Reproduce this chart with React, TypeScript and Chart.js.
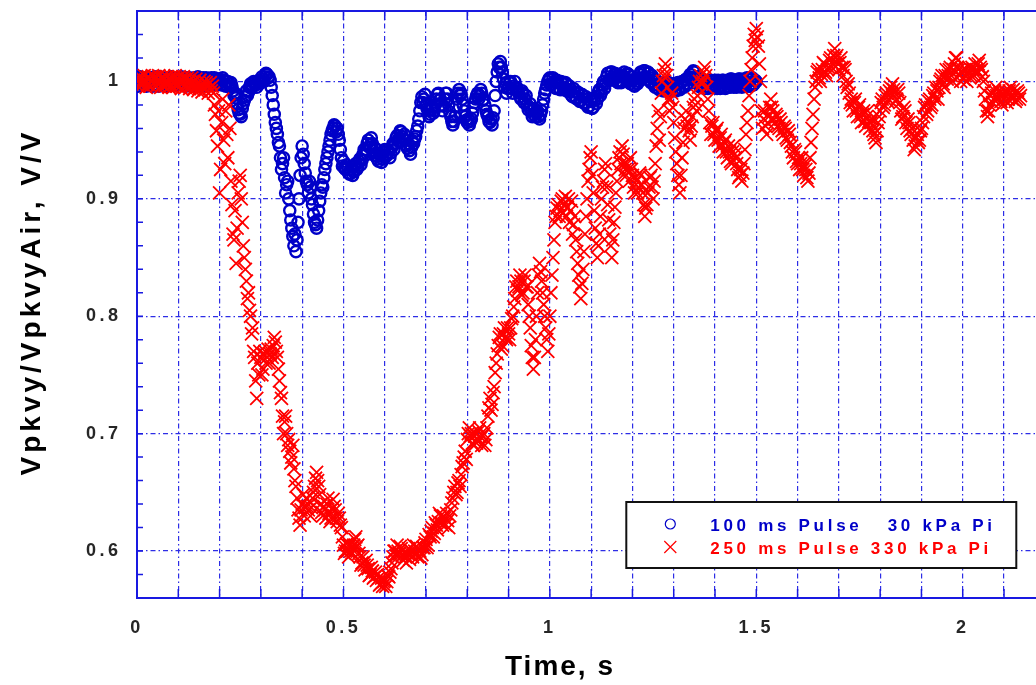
import React, { useEffect, useRef } from 'react';
import { Chart, registerables } from 'chart.js';

Chart.register(...registerables);

// ---------------- data ----------------
// Both records are sampled every 2.5 ms; each series is stored as two interleaved
// arrays: samples on the 5 ms grid (t = i*5 ms) and the in-between samples (t = 2.5 ms + i*5 ms).
const SAMPLE_STEP_S = 0.005;

const SERIES_LABELS = ['100 ms Pulse   30 kPa Pi', '250 ms Pulse 330 kPa Pi'];

// 100 ms pulse, 30 kPa — one row per 0.1 s
const PULSE_100MS = [
  /* 0.0 */ 1.003, 0.998, 1.002, 0.997, 1.003, 0.999, 0.997, 1.003, 1.000, 0.997, 1.002, 1.004, 0.998, 0.997, 1.002, 1.003, 0.999, 1.002, 0.997, 1.001,
  /* 0.1 */ 1.003, 0.998, 0.997, 1.002, 1.003, 0.998, 0.997, 1.001, 1.003, 0.999, 0.997, 1.002, 1.003, 0.998, 0.997, 1.002, 1.003, 0.999, 0.997, 1.002,
  /* 0.2 */ 1.002, 0.997, 1.001, 0.996, 1.000, 0.995, 0.996, 0.988, 0.986, 0.976, 0.972, 0.977, 0.984, 0.992, 0.991, 0.998, 0.996, 0.999, 0.995, 1.001,
  /* 0.3 */ 1.000, 1.002, 1.004, 1.006, 1.004, 0.995, 0.980, 0.965, 0.955, 0.945, 0.925, 0.935, 0.905, 0.915, 0.890, 0.875, 0.860, 0.855, 0.880, 0.920,
  /* 0.4 */ 0.945, 0.930, 0.915, 0.905, 0.910, 0.895, 0.880, 0.875, 0.890, 0.905, 0.910, 0.925, 0.935, 0.945, 0.955, 0.960, 0.962, 0.960, 0.950, 0.935,
  /* 0.5 */ 0.932, 0.925, 0.927, 0.921, 0.927, 0.923, 0.930, 0.927, 0.934, 0.933, 0.942, 0.942, 0.950, 0.946, 0.947, 0.937, 0.939, 0.932, 0.937, 0.934,
  /* 0.6 */ 0.942, 0.937, 0.940, 0.939, 0.947, 0.947, 0.954, 0.952, 0.957, 0.951, 0.950, 0.943, 0.941, 0.944, 0.947, 0.953, 0.962, 0.975, 0.987, 0.985,
  /* 0.7 */ 0.980, 0.975, 0.972, 0.978, 0.975, 0.985, 0.990, 0.985, 0.975, 0.985, 0.990, 0.980, 0.970, 0.963, 0.970, 0.985, 0.993, 0.990, 0.980, 0.970,
  /* 0.8 */ 0.965, 0.963, 0.968, 0.978, 0.985, 0.990, 0.988, 0.990, 0.985, 0.975, 0.970, 0.965, 0.963, 0.975, 1.000, 1.015, 1.017, 1.008, 0.995, 0.990,
  /* 0.9 */ 0.995, 1.000, 0.990, 1.000, 0.995, 0.990, 0.985, 0.990, 0.985, 0.980, 0.978, 0.975, 0.972, 0.970, 0.975, 0.968, 0.975, 0.985, 0.993, 1.000,
  /* 1.0 */ 1.003, 0.998, 1.000, 0.994, 0.999, 0.993, 0.999, 0.994, 0.998, 0.991, 0.993, 0.987, 0.991, 0.985, 0.990, 0.984, 0.988, 0.981, 0.985, 0.979,
  /* 1.1 */ 0.983, 0.978, 0.987, 0.985, 0.993, 0.991, 1.000, 0.998, 1.007, 1.002, 1.008, 1.001, 1.006, 0.999, 1.005, 1.000, 1.008, 1.001, 1.006, 0.998,
  /* 1.2 */ 1.001, 0.996, 1.003, 1.000, 1.008, 1.003, 1.009, 1.002, 1.007, 0.999, 1.003, 0.995, 1.000, 0.993, 0.999, 0.992, 0.998, 0.992, 0.998, 0.992,
  /* 1.3 */ 0.998, 0.992, 0.999, 0.993, 1.000, 0.995, 1.002, 0.998, 1.006, 1.003, 1.008, 0.999, 1.003, 0.995, 1.000, 0.994, 1.000, 0.995, 1.001, 0.995,
  /* 1.4 */ 1.001, 0.994, 1.000, 0.995, 1.001, 0.994, 1.001, 0.995, 1.002, 0.995, 1.001, 0.996, 1.002, 0.995, 1.002, 0.997, 1.002, 0.996, 1.003, 0.998,
  /* 1.5 */ 1.000,
];
const PULSE_100MS_MID = [
  /* 0.0 */ 0.996, 1.004, 0.999, 1.001, 0.996, 1.002, 1.001, 0.996, 1.004, 1.000, 0.996, 0.999, 1.003, 1.001, 0.996, 0.998, 1.004, 0.998, 1.002, 0.997,
  /* 0.1 */ 1.000, 1.004, 1.001, 0.996, 0.999, 1.003, 1.002, 0.996, 0.999, 1.004, 1.001, 0.996, 0.999, 1.003, 1.001, 0.997, 0.999, 1.003, 1.001, 0.998,
  /* 0.2 */ 0.999, 1.003, 0.997, 1.000, 0.998, 0.999, 0.992, 0.990, 0.981, 0.973, 0.970, 0.981, 0.987, 0.988, 0.995, 0.994, 1.000, 0.997, 1.000, 0.998,
  /* 0.3 */ 1.004, 1.000, 1.007, 1.003, 1.001, 0.988, 0.972, 0.960, 0.948, 0.935, 0.930, 0.918, 0.912, 0.900, 0.882, 0.868, 0.870, 0.865, 0.900, 0.935,
  /* 0.4 */ 0.938, 0.922, 0.912, 0.915, 0.900, 0.887, 0.878, 0.882, 0.898, 0.912, 0.918, 0.930, 0.940, 0.950, 0.958, 0.963, 0.957, 0.955, 0.942, 0.928,
  /* 0.5 */ 0.926, 0.929, 0.922, 0.925, 0.920, 0.928, 0.925, 0.932, 0.929, 0.938, 0.937, 0.947, 0.944, 0.952, 0.941, 0.943, 0.934, 0.938, 0.931, 0.940,
  /* 0.6 */ 0.936, 0.942, 0.935, 0.944, 0.942, 0.952, 0.949, 0.958, 0.953, 0.955, 0.945, 0.947, 0.938, 0.949, 0.951, 0.958, 0.968, 0.982, 0.982, 0.989,
  /* 0.7 */ 0.977, 0.970, 0.976, 0.973, 0.980, 0.989, 0.984, 0.980, 0.979, 0.990, 0.985, 0.974, 0.966, 0.966, 0.978, 0.990, 0.988, 0.985, 0.975, 0.967,
  /* 0.8 */ 0.968, 0.966, 0.973, 0.982, 0.988, 0.985, 0.993, 0.984, 0.980, 0.972, 0.966, 0.968, 0.969, 0.988, 1.008, 1.012, 1.012, 1.002, 0.998, 0.994,
  /* 0.9 */ 0.999, 0.994, 0.996, 0.994, 0.992, 0.987, 0.992, 0.982, 0.988, 0.976, 0.981, 0.970, 0.977, 0.973, 0.970, 0.972, 0.980, 0.990, 0.997, 1.002,
  /* 1.0 */ 0.997, 1.003, 0.995, 1.001, 0.994, 1.000, 0.993, 0.999, 0.992, 0.996, 0.988, 0.994, 0.986, 0.991, 0.983, 0.989, 0.982, 0.987, 0.978, 0.984,
  /* 1.1 */ 0.977, 0.984, 0.981, 0.991, 0.988, 0.997, 0.994, 1.004, 1.001, 1.008, 1.002, 1.007, 1.000, 1.006, 0.999, 1.005, 1.003, 1.007, 1.000, 1.004,
  /* 1.2 */ 0.997, 1.002, 0.998, 1.006, 1.002, 1.009, 1.004, 1.008, 1.000, 1.005, 0.997, 1.001, 0.994, 0.999, 0.993, 0.998, 0.993, 0.999, 0.993, 0.997,
  /* 1.3 */ 0.993, 0.998, 0.994, 0.999, 0.996, 1.001, 0.997, 1.004, 1.002, 1.009, 1.001, 1.004, 0.996, 1.001, 0.995, 1.000, 0.994, 1.001, 0.996, 1.000,
  /* 1.4 */ 0.996, 1.001, 0.994, 1.001, 0.995, 1.000, 0.995, 1.002, 0.996, 1.001, 0.995, 1.002, 0.996, 1.001, 0.996, 1.003, 0.996, 1.002, 0.997, 1.001,
];

// 250 ms pulse, 330 kPa — one row per 0.1 s
const PULSE_250MS = [
  /* 0.0 */ 1.002, 0.998, 1.003, 0.999, 1.001, 0.997, 1.002, 1.000, 0.998, 1.003, 0.999, 1.001, 0.997, 1.002, 0.999, 1.000, 0.996, 1.001, 0.998, 1.002,
  /* 0.1 */ 0.997, 1.000, 0.998, 1.002, 0.996, 1.000, 0.997, 0.999, 0.995, 0.998, 0.994, 0.997, 0.995, 0.993, 0.997, 0.994, 0.992, 0.990, 0.972, 0.945,
  /* 0.2 */ 0.905, 0.965, 0.950, 0.975, 0.935, 0.960, 0.895, 0.865, 0.845, 0.905, 0.920, 0.880, 0.850, 0.830, 0.820, 0.800, 0.790, 0.765, 0.730, 0.750,
  /* 0.3 */ 0.765, 0.755, 0.770, 0.765, 0.760, 0.772, 0.775, 0.778, 0.765, 0.745, 0.730, 0.700, 0.715, 0.690, 0.685, 0.680, 0.670, 0.655, 0.635, 0.622,
  /* 0.4 */ 0.640, 0.630, 0.645, 0.635, 0.630, 0.645, 0.655, 0.667, 0.655, 0.640, 0.630, 0.635, 0.640, 0.632, 0.628, 0.644, 0.635, 0.625, 0.628, 0.620,
  /* 0.5 */ 0.605, 0.600, 0.600, 0.605, 0.598, 0.605, 0.612, 0.605, 0.595, 0.590, 0.588, 0.592, 0.585, 0.580, 0.583, 0.578, 0.575, 0.577, 0.572, 0.570,
  /* 0.6 */ 0.575, 0.574, 0.578, 0.585, 0.595, 0.600, 0.605, 0.598, 0.602, 0.592, 0.595, 0.598, 0.593, 0.600, 0.605, 0.598, 0.595, 0.600, 0.597, 0.603,
  /* 0.7 */ 0.610, 0.605, 0.612, 0.620, 0.615, 0.622, 0.625, 0.630, 0.622, 0.628, 0.632, 0.620, 0.635, 0.645, 0.655, 0.650, 0.660, 0.665, 0.675, 0.685,
  /* 0.8 */ 0.695, 0.705, 0.700, 0.690, 0.700, 0.695, 0.705, 0.690, 0.700, 0.695, 0.715, 0.730, 0.725, 0.740, 0.760, 0.775, 0.785, 0.775, 0.790, 0.780,
  /* 0.9 */ 0.785, 0.790, 0.800, 0.815, 0.830, 0.825, 0.830, 0.820, 0.835, 0.825, 0.800, 0.775, 0.755, 0.780, 0.820, 0.845, 0.830, 0.810, 0.790, 0.770,
  /* 1.0 */ 0.800, 0.835, 0.865, 0.885, 0.895, 0.890, 0.900, 0.895, 0.885, 0.900, 0.890, 0.870, 0.885, 0.855, 0.835, 0.815, 0.840, 0.870, 0.900, 0.925,
  /* 1.1 */ 0.940, 0.905, 0.875, 0.850, 0.870, 0.900, 0.915, 0.930, 0.895, 0.870, 0.850, 0.880, 0.905, 0.925, 0.940, 0.945, 0.930, 0.920, 0.925, 0.935,
  /* 1.2 */ 0.920, 0.905, 0.915, 0.910, 0.920, 0.905, 0.885, 0.895, 0.910, 0.920, 0.900, 0.930, 0.960, 0.950, 0.990, 1.005, 1.015, 0.995, 0.975, 0.990,
  /* 1.3 */ 0.965, 0.940, 0.920, 0.905, 0.935, 0.960, 0.975, 0.965, 0.950, 0.970, 0.985, 0.975, 0.995, 1.005, 1.000, 1.012, 0.995, 0.975, 0.955, 0.965,
  /* 1.4 */ 0.950, 0.960, 0.945, 0.955, 0.940, 0.950, 0.935, 0.940, 0.930, 0.945, 0.935, 0.925, 0.920, 0.915, 0.930, 0.955, 0.975, 1.000, 1.020, 1.040,
  /* 1.5 */ 1.045, 1.030, 1.000, 0.960, 0.975, 0.955, 0.970, 0.985, 0.975, 0.965, 0.970, 0.960, 0.965, 0.955, 0.960, 0.950, 0.955, 0.945, 0.935, 0.940,
  /* 1.6 */ 0.930, 0.925, 0.935, 0.920, 0.925, 0.915, 0.935, 0.960, 0.985, 1.000, 1.010, 1.000, 1.010, 1.015, 1.005, 1.012, 1.020, 1.015, 1.028, 1.022,
  /* 1.7 */ 1.010, 1.020, 1.005, 1.010, 0.995, 0.990, 0.985, 0.975, 0.985, 0.970, 0.980, 0.965, 0.975, 0.962, 0.975, 0.960, 0.968, 0.955, 0.948, 0.965,
  /* 1.8 */ 0.975, 0.985, 0.980, 0.990, 0.985, 0.995, 0.998, 0.990, 0.985, 0.990, 0.975, 0.970, 0.975, 0.960, 0.965, 0.955, 0.950, 0.945, 0.955, 0.950,
  /* 1.9 */ 0.960, 0.970, 0.980, 0.975, 0.985, 0.980, 0.990, 0.995, 0.985, 1.000, 1.005, 0.995, 1.010, 1.005, 1.012, 1.000, 1.015, 1.020, 1.010, 1.000,
  /* 2.0 */ 1.010, 1.005, 1.000, 1.012, 1.005, 1.010, 1.015, 1.008, 1.018, 1.010, 1.000, 0.985, 0.970, 0.980, 0.990, 0.985, 0.995, 0.985, 0.990, 0.980,
  /* 2.1 */ 0.985, 0.990, 0.985, 0.995, 0.985, 0.990, 0.985, 0.990, 0.988,
];
const PULSE_250MS_MID = [
  /* 0.0 */ 0.996, 1.004, 0.997, 1.005, 0.995, 1.004, 0.996, 1.005, 1.004, 0.996, 1.005, 0.995, 1.004, 0.996, 1.004, 0.995, 1.004, 0.995, 1.005, 0.996,
  /* 0.1 */ 1.004, 0.994, 1.004, 0.995, 1.003, 0.994, 1.003, 0.993, 1.002, 0.992, 1.001, 0.991, 1.000, 0.999, 0.990, 0.999, 0.996, 0.980, 0.958, 0.975,
  /* 0.2 */ 0.925, 0.985, 0.930, 0.955, 0.980, 0.915, 0.870, 0.890, 0.875, 0.915, 0.900, 0.860, 0.840, 0.815, 0.805, 0.785, 0.770, 0.745, 0.760, 0.770,
  /* 0.3 */ 0.750, 0.768, 0.760, 0.772, 0.768, 0.765, 0.782, 0.770, 0.755, 0.735, 0.715, 0.710, 0.700, 0.695, 0.675, 0.690, 0.660, 0.645, 0.628, 0.635,
  /* 0.4 */ 0.648, 0.637, 0.638, 0.642, 0.637, 0.650, 0.662, 0.660, 0.648, 0.633, 0.638, 0.628, 0.645, 0.625, 0.636, 0.638, 0.628, 0.632, 0.622, 0.612,
  /* 0.5 */ 0.598, 0.606, 0.595, 0.600, 0.604, 0.610, 0.604, 0.598, 0.588, 0.595, 0.584, 0.588, 0.579, 0.586, 0.577, 0.582, 0.580, 0.571, 0.577, 0.574,
  /* 0.6 */ 0.570, 0.579, 0.582, 0.590, 0.600, 0.596, 0.600, 0.604, 0.596, 0.598, 0.590, 0.602, 0.598, 0.595, 0.600, 0.604, 0.601, 0.594, 0.603, 0.607,
  /* 0.7 */ 0.603, 0.614, 0.617, 0.612, 0.624, 0.618, 0.632, 0.624, 0.630, 0.622, 0.626, 0.630, 0.641, 0.650, 0.648, 0.658, 0.655, 0.672, 0.680, 0.678,
  /* 0.8 */ 0.700, 0.698, 0.692, 0.698, 0.692, 0.702, 0.697, 0.698, 0.690, 0.705, 0.722, 0.720, 0.735, 0.752, 0.768, 0.782, 0.772, 0.785, 0.782, 0.790,
  /* 0.9 */ 0.780, 0.798, 0.808, 0.825, 0.822, 0.835, 0.818, 0.830, 0.825, 0.810, 0.790, 0.765, 0.765, 0.800, 0.835, 0.838, 0.820, 0.800, 0.780, 0.785,
  /* 1.0 */ 0.820, 0.850, 0.880, 0.892, 0.885, 0.898, 0.888, 0.902, 0.893, 0.880, 0.898, 0.878, 0.865, 0.845, 0.825, 0.828, 0.855, 0.885, 0.915, 0.935,
  /* 1.1 */ 0.920, 0.890, 0.862, 0.860, 0.885, 0.910, 0.925, 0.910, 0.882, 0.860, 0.865, 0.893, 0.915, 0.935, 0.930, 0.938, 0.925, 0.930, 0.915, 0.925,
  /* 1.2 */ 0.910, 0.918, 0.905, 0.922, 0.912, 0.895, 0.892, 0.905, 0.918, 0.910, 0.915, 0.945, 0.975, 0.970, 1.000, 1.010, 1.005, 0.985, 0.985, 0.978,
  /* 1.3 */ 0.952, 0.930, 0.912, 0.920, 0.948, 0.968, 0.962, 0.958, 0.962, 0.978, 0.980, 0.988, 1.000, 0.998, 1.008, 1.005, 0.985, 0.965, 0.962, 0.955,
  /* 1.4 */ 0.958, 0.950, 0.952, 0.945, 0.948, 0.940, 0.945, 0.932, 0.940, 0.938, 0.930, 0.918, 0.925, 0.922, 0.942, 0.965, 0.988, 1.010, 1.030, 1.035,
  /* 1.5 */ 1.038, 1.015, 0.975, 0.968, 0.962, 0.965, 0.978, 0.978, 0.968, 0.972, 0.962, 0.968, 0.958, 0.962, 0.952, 0.958, 0.948, 0.940, 0.942, 0.932,
  /* 1.6 */ 0.935, 0.930, 0.925, 0.928, 0.918, 0.922, 0.948, 0.972, 0.995, 1.008, 1.003, 1.006, 1.016, 1.008, 1.010, 1.018, 1.012, 1.022, 1.020, 1.015,
  /* 1.7 */ 1.016, 1.012, 1.012, 1.000, 0.998, 0.982, 0.980, 0.982, 0.975, 0.978, 0.970, 0.972, 0.966, 0.970, 0.966, 0.965, 0.958, 0.952, 0.958, 0.970,
  /* 1.8 */ 0.982, 0.978, 0.988, 0.983, 0.992, 0.990, 0.993, 0.983, 0.993, 0.982, 0.968, 0.978, 0.965, 0.968, 0.958, 0.960, 0.942, 0.952, 0.948, 0.958,
  /* 1.9 */ 0.965, 0.978, 0.972, 0.983, 0.978, 0.988, 0.985, 0.992, 0.995, 1.002, 0.998, 1.005, 1.002, 1.010, 1.005, 1.010, 1.020, 1.012, 1.005, 1.008,
  /* 2.0 */ 1.002, 1.010, 1.008, 1.003, 1.012, 1.005, 1.010, 1.015, 1.012, 1.004, 0.992, 0.975, 0.975, 0.988, 0.982, 0.992, 0.988, 0.992, 0.983, 0.990,
  /* 2.1 */ 0.992, 0.982, 0.992, 0.988, 0.993, 0.983, 0.992, 0.985,
];

const X_TICKS = [0, 0.1, 0.2, 0.3, 0.4, 0.5, 0.6, 0.7, 0.8, 0.9, 1.0, 1.1, 1.2, 1.3, 1.4, 1.5, 1.6, 1.7, 1.8, 1.9, 2.0, 2.1, 2.2];
const X_TICK_LABELS = ['0', '', '', '', '', '0.5', '', '', '', '', '1', '', '', '', '', '1.5', '', '', '', '', '2', '', ''];
const Y_TICKS = [0.6, 0.7, 0.8, 0.9, 1.0];
const Y_TICK_LABELS = ['0.6', '0.7', '0.8', '0.9', '1'];
const Y_MINOR_STEP = 0.02;
const X_MIN = 0, X_MAX = 2.2, Y_MIN = 0.56, Y_MAX = 1.06;

const X_TITLE = 'Time, s';
const Y_TITLE = 'Vpkvy/VpkvyAir, V/V';

// ---------------- style ----------------
const AXIS_BLUE = 'rgb(25,25,225)';
const GRID_BLUE = 'rgb(45,45,230)';
const BLUE = 'rgb(0,0,200)';
const RED = 'rgb(255,0,0)';
const FONT = '"Liberation Sans", Arial, Helvetica, sans-serif';

const toPoints = (grid: number[], mid: number[]) => {
  const pts: { x: number; y: number }[] = [];
  grid.forEach((v, i) => pts.push({ x: Math.round(i * SAMPLE_STEP_S * 10000) / 10000, y: v }));
  mid.forEach((v, i) => pts.push({ x: Math.round((i + 0.5) * SAMPLE_STEP_S * 10000) / 10000, y: v }));
  return pts.sort((p, q) => p.x - q.x);
};

const framePlugin = {
  id: 'frame',
  beforeDraw(chart: any) {
    chart.ctx.letterSpacing = '3.5px';
  },
  beforeDatasetsDraw(chart: any) {
    const { ctx, chartArea: a, scales } = chart;
    const xs = scales.x, ys = scales.y;
    ctx.save();
    ctx.setLineDash([]);
    ctx.strokeStyle = AXIS_BLUE;
    ctx.lineWidth = 1.5;
    ctx.beginPath();
    for (const t of X_TICKS) {
      const px = xs.getPixelForValue(t);
      ctx.moveTo(px, a.bottom); ctx.lineTo(px, a.bottom - 9);
      ctx.moveTo(px, a.top); ctx.lineTo(px, a.top + 9);
    }
    const n = Math.round((Y_MAX - Y_MIN) / Y_MINOR_STEP);
    for (let k = 0; k <= n; k++) {
      const py = ys.getPixelForValue(Y_MIN + k * Y_MINOR_STEP);
      ctx.moveTo(a.left, py); ctx.lineTo(a.left + 6, py);
    }
    ctx.stroke();
    ctx.lineWidth = 2;
    ctx.beginPath();
    ctx.moveTo(a.left, a.top); ctx.lineTo(a.right, a.top);
    ctx.stroke();
    ctx.restore();
  },
  afterDraw(chart: any) {
    const { ctx, chartArea: a } = chart;
    ctx.save();
    // axis titles
    ctx.fillStyle = '#000';
    ctx.font = `bold 28px ${FONT}`;
    ctx.letterSpacing = '2px';
    ctx.textAlign = 'center';
    ctx.textBaseline = 'alphabetic';
    ctx.fillText(X_TITLE, 560, 675);
    ctx.save();
    ctx.translate(40, 302);
    ctx.rotate(-Math.PI / 2);
    ctx.letterSpacing = '4px';
    ctx.fillText(Y_TITLE, 0, 0);
    ctx.restore();

    // legend
    const bw = 390, bh = 66;
    const bx = a.right - 29 - bw, by = a.bottom - 30 - bh;
    ctx.fillStyle = '#fff';
    ctx.fillRect(bx, by, bw, bh);
    ctx.strokeStyle = '#111';
    ctx.lineWidth = 2;
    ctx.strokeRect(bx, by, bw, bh);
    const ds = chart.data.datasets;
    const rows = [by + 22, by + 45];
    ds.forEach((d: any, i: number) => {
      const cy = rows[i];
      const mx = bx + 44;
      ctx.strokeStyle = d.borderColor;
      ctx.lineWidth = 1.2;
      ctx.beginPath();
      if (d.pointStyle === 'circle') {
        ctx.arc(mx, cy, 5, 0, Math.PI * 2);
      } else {
        ctx.moveTo(mx - 6, cy - 6); ctx.lineTo(mx + 6, cy + 6);
        ctx.moveTo(mx + 6, cy - 6); ctx.lineTo(mx - 6, cy + 6);
      }
      ctx.stroke();
      ctx.fillStyle = d.borderColor;
      ctx.font = `bold 17px ${FONT}`;
      ctx.letterSpacing = '3.7px';
      ctx.textAlign = 'left';
      ctx.textBaseline = 'alphabetic';
      ctx.fillText(d.label, bx + 84, cy + 7);
    });
    ctx.restore();
    ctx.letterSpacing = '0px';
  },
};

export default function App() {
  const ref = useRef<HTMLCanvasElement | null>(null);

  useEffect(() => {
    if (!ref.current) return;
    const tickFont = { family: FONT, size: 18, weight: 'bold' as const };
    const chart = new Chart(ref.current, {
      type: 'scatter',
      data: {
        datasets: [
          {
            label: SERIES_LABELS[0],
            data: toPoints(PULSE_100MS, PULSE_100MS_MID),
            pointStyle: 'circle',
            pointRadius: 5.6,
            pointHoverRadius: 5.6,
            borderColor: BLUE,
            backgroundColor: 'rgba(0,0,0,0)',
            borderWidth: 2.4,
            showLine: false,
            order: 1,
          } as any,
          {
            label: SERIES_LABELS[1],
            data: toPoints(PULSE_250MS, PULSE_250MS_MID),
            pointStyle: 'crossRot',
            pointRadius: 9.2,
            pointHoverRadius: 9.2,
            borderColor: RED,
            backgroundColor: RED,
            borderWidth: 1.8,
            showLine: false,
            order: 0,
          } as any,
        ],
      },
      options: {
        animation: false,
        responsive: false,
        devicePixelRatio: 1,
        events: [],
        layout: { padding: { top: 8, right: 14.7, left: 0, bottom: 0 } },
        plugins: { legend: { display: false }, tooltip: { enabled: false } },
        scales: {
          x: {
            type: 'linear',
            min: X_MIN,
            max: X_MAX,
            afterBuildTicks: (s: any) => { s.ticks = X_TICKS.map((v) => ({ value: v })); },
            afterFit: (s: any) => { s.height = 87; s.paddingLeft = 0; s.paddingRight = 0; },
            ticks: {
              autoSkip: false,
              maxRotation: 0,
              padding: 19,
              color: '#262626',
              font: tickFont,
              callback: (_v: any, i: number) => X_TICK_LABELS[i] ?? '',
            },
            grid: { color: GRID_BLUE, lineWidth: 1.2, drawTicks: false },
            border: { color: AXIS_BLUE, width: 2, dash: [5, 3, 1.5, 3] },
          },
          y: {
            type: 'linear',
            min: Y_MIN,
            max: Y_MAX,
            afterBuildTicks: (s: any) => { s.ticks = Y_TICKS.map((v) => ({ value: v })); },
            afterFit: (s: any) => { s.width = 137; s.paddingTop = 0; s.paddingBottom = 0; },
            ticks: {
              padding: 15.5,
              color: '#262626',
              font: tickFont,
              callback: (_v: any, i: number) => Y_TICK_LABELS[i] ?? '',
            },
            grid: { color: GRID_BLUE, lineWidth: 1.2, drawTicks: false },
            border: { color: AXIS_BLUE, width: 2, dash: [5, 3, 1.5, 3] },
          },
        },
      } as any,
      plugins: [framePlugin],
    });
    return () => chart.destroy();
  }, []);

  return (
    <div style={{ position: 'fixed', left: 0, top: 0, width: 1036, height: 685, overflow: 'hidden', background: '#fff' }}>
      <canvas ref={ref} width={1060} height={685} style={{ display: 'block' }} />
    </div>
  );
}
